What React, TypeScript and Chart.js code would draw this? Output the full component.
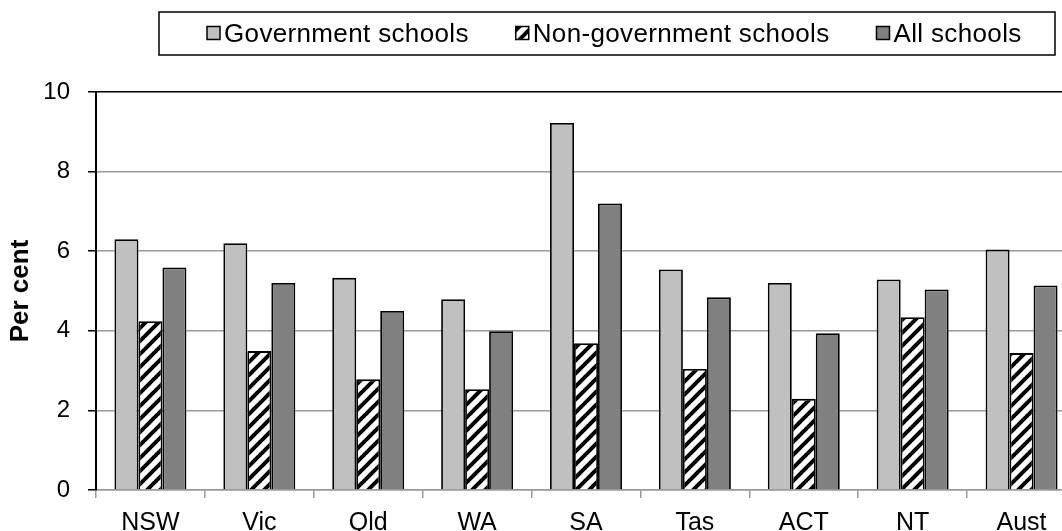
import React, { useEffect, useRef } from 'react';
import { Chart, registerables } from 'chart.js';

Chart.register(...registerables);

const categories = ['NSW', 'Vic', 'Qld', 'WA', 'SA', 'Tas', 'ACT', 'NT', 'Aust'];
const governmentSchools = [6.3, 6.2, 5.33, 4.79, 9.22, 5.54, 5.2, 5.29, 6.04];
const nonGovernmentSchools = [4.24, 3.49, 2.78, 2.53, 3.69, 3.04, 2.29, 4.34, 3.44];
const allSchools = [5.59, 5.2, 4.5, 3.99, 7.2, 4.84, 3.94, 5.04, 5.14];
const seriesLabels = ['Government schools', 'Non-government schools', 'All schools'];
const yTicks = [0, 2, 4, 6, 8, 10];
const yTitle = 'Per cent';

const FONT = '"Liberation Sans", Arial, sans-serif';
const CANVAS_W = 1090;
const CANVAS_H = 540;

function makeHatch(): CanvasPattern | string {
  const s = 13;
  const c = document.createElement('canvas');
  c.width = s;
  c.height = s;
  const g = c.getContext('2d');
  if (!g) return '#fff';
  g.fillStyle = '#fff';
  g.fillRect(0, 0, s, s);
  g.strokeStyle = '#000';
  g.lineWidth = 4;
  for (const o of [-s, 0, s]) {
    g.beginPath();
    g.moveTo(o - 1, s + 1);
    g.lineTo(o + s + 1, -1);
    g.stroke();
  }
  return g.createPattern(c, 'repeat') || '#fff';
}

const boxedLegend = {
  id: 'boxedLegend',
  afterDraw(chart: any) {
    const ctx = chart.ctx as CanvasRenderingContext2D;
    ctx.save();
    const left = 159;
    const right = 1055;
    const top = 12;
    const bottom = 55;
    ctx.fillStyle = '#fff';
    ctx.fillRect(left, top, right - left, bottom - top);
    ctx.lineWidth = 1.5;
    ctx.strokeStyle = '#000';
    ctx.strokeRect(left, top, right - left, bottom - top);
    ctx.font = `26px ${FONT}`;
    try {
      (ctx as any).letterSpacing = '0.35px';
    } catch (e) {
      /* ignore */
    }
    ctx.textBaseline = 'alphabetic';
    ctx.textAlign = 'left';
    let x = 207;
    chart.data.datasets.forEach((ds: any) => {
      ctx.fillStyle = ds.backgroundColor;
      ctx.fillRect(x, 26.5, 13, 13);
      ctx.lineWidth = 1.5;
      ctx.strokeStyle = '#000';
      ctx.strokeRect(x, 26.5, 13, 13);
      x += 17;
      ctx.fillStyle = '#000';
      ctx.fillText(ds.label, x, 42);
      x += ctx.measureText(ds.label).width + 47;
    });
    ctx.restore();
  },
};

export default function App() {
  const ref = useRef<HTMLCanvasElement>(null);

  useEffect(() => {
    if (!ref.current) return;
    const hatch = makeHatch();
    const chart = new Chart(ref.current, {
      type: 'bar',
      data: {
        labels: categories,
        datasets: [
          {
            label: seriesLabels[0],
            data: governmentSchools,
            backgroundColor: '#c0c0c0',
            borderColor: '#000',
            borderWidth: 1.8,
            categoryPercentage: 0.661,
            barPercentage: 1,
          },
          {
            label: seriesLabels[1],
            data: nonGovernmentSchools,
            backgroundColor: hatch as any,
            borderColor: '#000',
            borderWidth: 1.8,
            categoryPercentage: 0.661,
            barPercentage: 1,
          },
          {
            label: seriesLabels[2],
            data: allSchools,
            backgroundColor: '#808080',
            borderColor: '#000',
            borderWidth: 1.8,
            categoryPercentage: 0.661,
            barPercentage: 1,
          },
        ],
      },
      options: {
        responsive: false,
        animation: false,
        devicePixelRatio: 1,
        layout: { padding: { top: 92, left: 0, right: 14, bottom: 0 } },
        plugins: {
          legend: { display: false },
          tooltip: { enabled: false },
          title: { display: false },
        },
        scales: {
          x: {
            offset: true,
            afterFit: (scale: any) => {
              scale.height = 50;
            },
            grid: {
              drawOnChartArea: false,
              drawTicks: true,
              offset: true,
              tickLength: 8,
              tickColor: '#999',
              lineWidth: 1.5,
            },
            border: { color: '#999', width: 1.5 },
            ticks: {
              font: { family: FONT, size: 25 },
              color: '#000',
              padding: 10,
              maxRotation: 0,
              autoSkip: false,
            },
          },
          y: {
            min: 0,
            max: 10,
            afterFit: (scale: any) => {
              scale.width = 96;
            },
            afterBuildTicks: (scale: any) => {
              scale.ticks = yTicks.map((v) => ({ value: v }));
            },
            grid: {
              color: (c: any) => (c.tick && c.tick.value === 10 ? '#000' : '#999'),
              lineWidth: 1.5,
              tickColor: '#000',
              tickLength: 8,
              drawTicks: true,
            },
            border: { color: '#000', width: 2 },
            ticks: {
              font: { family: FONT, size: 24 },
              color: '#000',
              padding: 18,
            },
            title: {
              display: true,
              text: yTitle,
              color: '#000',
              font: { family: FONT, size: 26, weight: 'bold' },
              padding: { top: 5, bottom: 0 },
            },
          },
        },
      },
      plugins: [boxedLegend],
    });
    return () => chart.destroy();
  }, []);

  return (
    <div
      style={{
        position: 'fixed',
        left: 0,
        top: 0,
        width: 1062,
        height: 531,
        overflow: 'hidden',
        background: '#fff',
      }}
    >
      <canvas
        ref={ref}
        width={CANVAS_W}
        height={CANVAS_H}
        style={{ display: 'block', width: CANVAS_W, height: CANVAS_H }}
      />
    </div>
  );
}
